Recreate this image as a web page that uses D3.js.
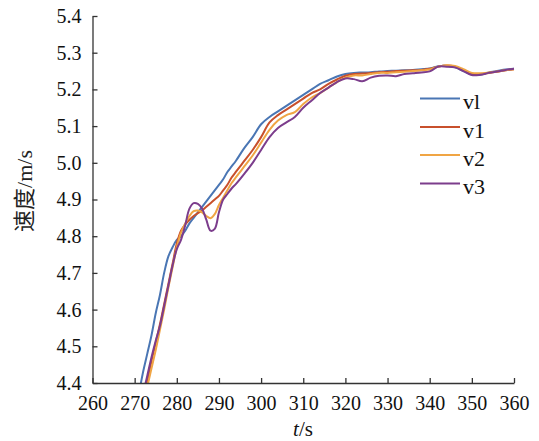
<!DOCTYPE html>
<html><head><meta charset="utf-8">
<script src="https://cdn.jsdelivr.net/npm/d3@7/dist/d3.min.js"></script>
<style>body{margin:0;background:#fff}</style>
</head><body>
<script>
const times = [271,272,273,274,275,276,277,278,279,280,281,282,283,284,285,286,287,288,289,290,291,292,293,294,296,298,300,302,304,306,308,310,312,314,316,318,320,322,324,326,328,330,332,334,336,338,340,342,344,346,348,350,352,354,356,358,360];
const seriesNames = ["vl","v1","v2","v3"];
const vBlue = [4.37,4.43,4.48,4.53,4.59,4.64,4.70,4.745,4.77,4.79,4.80,4.815,4.835,4.85,4.865,4.88,4.895,4.91,4.925,4.94,4.955,4.975,4.99,5.005,5.04,5.07,5.105,5.125,5.14,5.155,5.17,5.185,5.20,5.215,5.225,5.235,5.242,5.245,5.246,5.247,5.249,5.25,5.251,5.252,5.253,5.255,5.257,5.263,5.264,5.26,5.25,5.24,5.24,5.246,5.25,5.254,5.256];
const vRed = [4.30,4.35,4.405,4.46,4.51,4.56,4.615,4.67,4.725,4.78,4.815,4.832,4.845,4.855,4.863,4.87,4.88,4.89,4.90,4.91,4.925,4.94,4.96,4.975,5.005,5.035,5.07,5.11,5.13,5.145,5.16,5.175,5.19,5.20,5.215,5.227,5.237,5.242,5.243,5.245,5.247,5.248,5.25,5.251,5.252,5.253,5.256,5.262,5.265,5.262,5.252,5.243,5.242,5.245,5.248,5.252,5.255];
const vOrange = [4.29,4.34,4.39,4.44,4.49,4.545,4.60,4.66,4.715,4.77,4.81,4.835,4.855,4.868,4.87,4.865,4.855,4.849,4.86,4.885,4.905,4.925,4.945,4.96,4.99,5.02,5.055,5.09,5.115,5.13,5.138,5.16,5.178,5.19,5.205,5.22,5.232,5.238,5.238,5.242,5.245,5.245,5.247,5.248,5.25,5.252,5.254,5.262,5.266,5.264,5.255,5.245,5.244,5.246,5.249,5.252,5.255];
const vPurple = [4.32,4.37,4.42,4.47,4.515,4.555,4.61,4.665,4.72,4.765,4.79,4.83,4.875,4.89,4.888,4.875,4.845,4.815,4.82,4.865,4.90,4.915,4.93,4.942,4.97,5.0,5.035,5.07,5.095,5.11,5.125,5.15,5.17,5.19,5.205,5.22,5.23,5.228,5.222,5.232,5.237,5.238,5.236,5.242,5.244,5.246,5.249,5.262,5.262,5.26,5.25,5.239,5.24,5.245,5.249,5.253,5.256];
const xTicks = [260,270,280,290,300,310,320,330,340,350,360];
const yTicks = [4.4,4.5,4.6,4.7,4.8,4.9,5.0,5.1,5.2,5.3,5.4];
const colors = ["#4a76b4","#c8502c","#f0a544","#7c3d8c"];

const W = 539, H = 441;
const svg = d3.select("body").append("svg").attr("width", W).attr("height", H);
const x = d3.scaleLinear().domain([260,360]).range([92.5,514]);
const y = d3.scaleLinear().domain([4.4,5.4]).range([383,16]);

svg.append("defs").append("clipPath").attr("id","clip")
  .append("rect").attr("x",92.5).attr("y",10).attr("width",430).attr("height",373);

const allSeries = [vBlue, vRed, vOrange, vPurple];
const line = d3.line().x((d,i)=>x(times[i])).y(d=>y(d)).curve(d3.curveCatmullRom.alpha(0.5));
const g = svg.append("g").attr("clip-path","url(#clip)");
allSeries.forEach((s,k)=>{
  g.append("path").datum(s).attr("d",line).attr("fill","none")
   .attr("stroke",colors[k]).attr("stroke-width",2);
});

const font = "'Liberation Serif', 'Times New Roman', serif";
const xAxis = svg.append("g").attr("transform","translate(0,383)")
  .call(d3.axisBottom(x).tickValues(xTicks).tickSizeInner(-5).tickSizeOuter(0).tickPadding(13).tickFormat(d3.format("d")));
const yAxis = svg.append("g").attr("transform","translate(92.5,0)")
  .call(d3.axisLeft(y).tickValues(yTicks).tickSizeInner(-5).tickSizeOuter(0).tickPadding(11).tickFormat(d3.format(".1f")));
[xAxis,yAxis].forEach(a=>{
  a.attr("font-family",null).attr("font-size",null).style("font-family",font).style("font-size","20px");
  a.selectAll("path,line").attr("stroke","#333").attr("stroke-width",1.3);
  a.selectAll("text").style("font-family",font).style("font-size","20px").attr("fill","#111");
});

const yl = svg.append("text").attr("transform","translate(32,191) rotate(-90)")
  .attr("text-anchor","middle").style("font-size","22px").attr("fill","#222");
yl.append("tspan").style("font-family","'Noto Sans CJK SC', sans-serif").text("速度");
yl.append("tspan").style("font-family",font).text("/m/s");

const xl = svg.append("text").attr("x",303).attr("y",436).attr("text-anchor","middle")
  .style("font-family",font).style("font-size","21px").attr("fill","#111");
xl.append("tspan").attr("font-style","italic").text("t");
xl.append("tspan").text("/s");

const legY = [98.5,127,155,183.5];
seriesNames.forEach((n,k)=>{
  svg.append("line").attr("x1",420).attr("x2",460).attr("y1",legY[k]).attr("y2",legY[k])
    .attr("stroke",colors[k]).attr("stroke-width",2);
  svg.append("text").attr("x",463).attr("y",legY[k]+10.5).style("font-family",font)
    .style("font-size","22px").attr("fill","#111").text(n);
});
</script>
</body></html>
